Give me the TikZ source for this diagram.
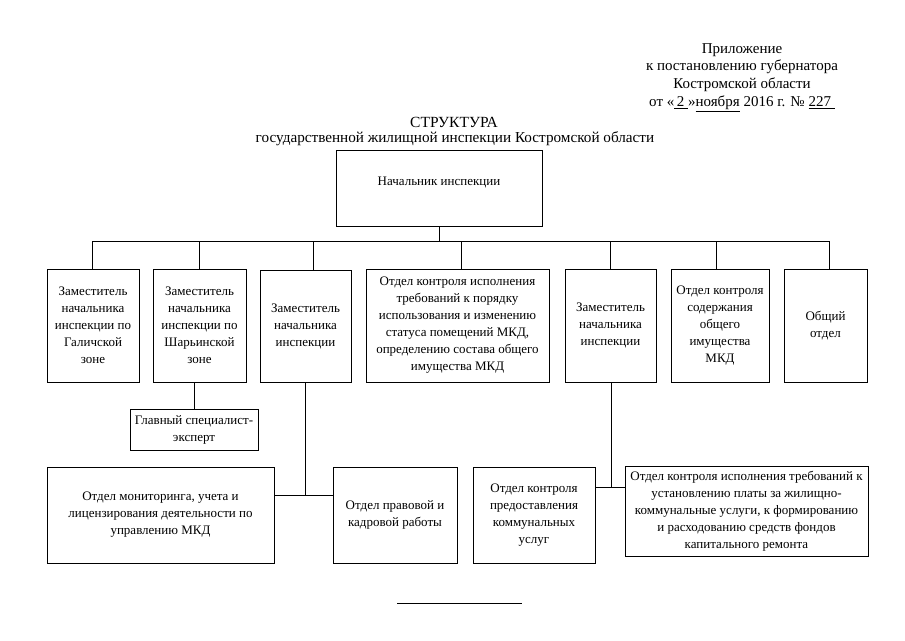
\documentclass[tikz,border=0pt]{standalone}
\usepackage{fontspec}
\setmainfont{Liberation Serif}
\begin{document}
\begin{tikzpicture}[x=1pt,y=-1pt,
  box/.style={draw, line width=0.8pt, align=center, inner sep=0pt, font=\fontsize{13}{17}\selectfont},
  conn/.style={line width=0.8pt},
  hdr/.style={align=center, inner sep=0pt, font=\fontsize{15}{17.7}\selectfont}]
\useasboundingbox (0,0) rectangle (905,640);
% header
\node[hdr] (hd) at (742,77.5) {Приложение\\к постановлению губернатора\\Костромской области\\от «\underline{\,2\ }»\underline{ноября} 2016 г. № \underline{227\ }};
\node[inner sep=0pt, font=\fontsize{15.5}{18}\selectfont] (t1) at (454,122.5) {СТРУКТУРА};
\node[inner sep=0pt, font=\fontsize{15.2}{18}\selectfont] (t2) at (455,139) {государственной жилищной инспекции Костромской области};
% boxes
\node[box, minimum width=206, minimum height=76] (nach) at (439,188) {\raisebox{14pt}{Начальник инспекции}};
\node[box, minimum width=92, minimum height=113] (b1) at (93,325.5) {Заместитель\\начальника\\инспекции по\\Галичской\\зоне};
\node[box, minimum width=93, minimum height=113] (b2) at (199.5,325.5) {Заместитель\\начальника\\инспекции по\\Шарьинской\\зоне};
\node[box, minimum width=91, minimum height=112] (b3) at (305.5,326) {Заместитель\\начальника\\инспекции};
\node[box, minimum width=183, minimum height=113] (b4) at (457.5,325.5) {Отдел контроля исполнения\\требований к порядку\\использования и изменению\\статуса помещений МКД,\\определению состава общего\\имущества МКД};
\node[box, minimum width=91, minimum height=113] (b5) at (610.5,325.5) {Заместитель\\начальника\\инспекции};
\node[box, minimum width=98, minimum height=113] (b6) at (720,325.5) {Отдел контроля\\содержания\\общего\\имущества\\МКД};
\node[box, minimum width=83, minimum height=113] (b7) at (825.5,325.5) {Общий\\отдел};
\node[box, minimum width=128, minimum height=41] (gl) at (194,429.5) {Главный специалист-\\эксперт};
\node[box, minimum width=227, minimum height=96] (mon) at (160.5,515) {Отдел мониторинга, учета и\\лицензирования деятельности по\\управлению МКД};
\node[box, minimum width=124, minimum height=96] (prav) at (395,515) {\raisebox{8pt}{\parbox{120pt}{\centering Отдел правовой и\\кадровой работы}}};
\node[box, minimum width=122, minimum height=96] (kom) at (534,515) {Отдел контроля\\предоставления\\коммунальных\\услуг};
\node[box, minimum width=243, minimum height=90] (kap) at (746.5,511) {Отдел контроля исполнения требований к\\установлению платы за жилищно-\\коммунальные услуги, к формированию\\и расходованию средств фондов\\капитального ремонта};
% connectors
\coordinate (bus) at (0,241.5);
\coordinate (j1) at (305,495);
\coordinate (j2) at (611,487);
\coordinate (d1) at ([xshift=-1pt]b1.north);
\coordinate (d7) at ([xshift=4pt]b7.north);
\draw[conn] (nach.south) -- (nach.south |- bus);
\draw[conn] (d1) -- (d1 |- bus) -- (d7 |- bus) -- (d7);
\draw[conn] (b2.north) -- (b2.north |- bus);
\draw[conn] ([xshift=8pt]b3.north) -- ([xshift=8pt]b3.north |- bus);
\draw[conn] ([xshift=3.5pt]b4.north) -- ([xshift=3.5pt]b4.north |- bus);
\draw[conn] (b5.north) -- (b5.north |- bus);
\draw[conn] ([xshift=-4pt]b6.north) -- ([xshift=-4pt]b6.north |- bus);
\draw[conn] (gl.north) -- (gl.north |- b2.south);
\draw[conn] (j1 |- b3.south) -- (j1);
\draw[conn] (mon.east |- j1) -- (prav.west |- j1);
\draw[conn] (j2 |- b5.south) -- (j2);
\draw[conn] (kom.east |- j2) -- (kap.west |- j2);
% closing rule
\draw[conn] (397,603) -- (522,603);
\end{tikzpicture}
\end{document}
